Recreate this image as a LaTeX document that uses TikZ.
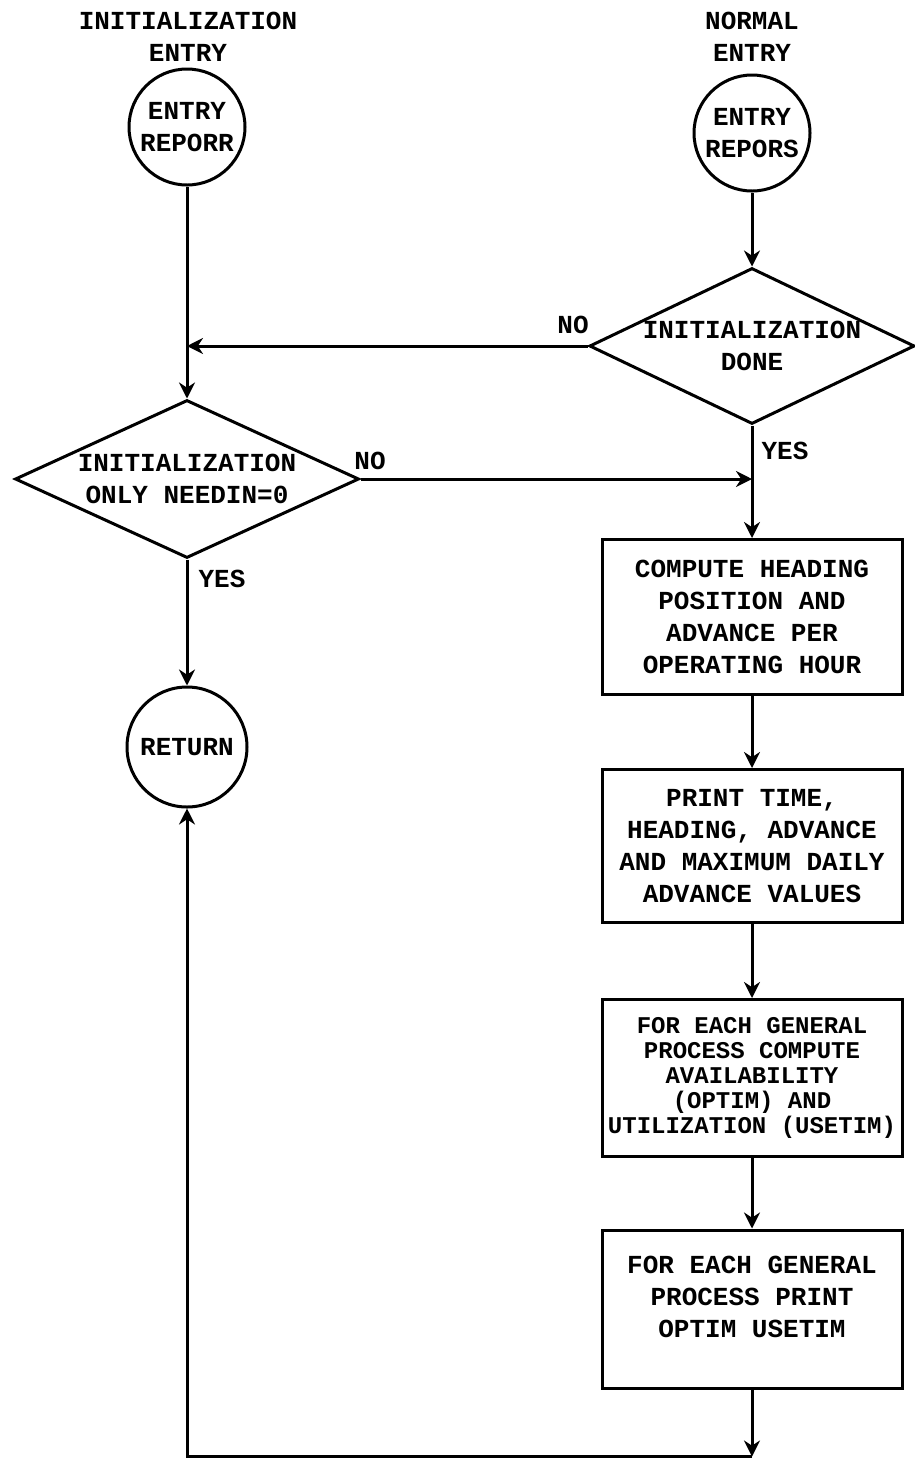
\documentclass[tikz,border=0pt]{standalone}
\usepackage{fontspec}
\setmonofont{Liberation Mono}
\usetikzlibrary{shapes.geometric,arrows.meta}
\begin{document}
\begin{tikzpicture}[x=1pt,y=-1pt,
  base/.style={font=\ttfamily\bfseries\fontsize{26}{32}\selectfont, align=center, inner sep=0pt},
  conn/.style={line width=3pt},
  arr/.style={conn,-{Stealth[length=16pt,width=16pt]}},
  circ/.style={base,draw,circle,line width=3pt,minimum size=116pt},
  dia/.style={base,draw,diamond,line width=3pt,shape aspect=2.15,minimum width=330pt,minimum height=156pt},
  box/.style={base,draw,rectangle,line width=3pt,minimum width=300pt,minimum height=155pt}]
\useasboundingbox (0,0) rectangle (914,1460);
\fill[white] (0,0) rectangle (914,1460);

% titles
\node[base] (t1) at (188,37) {INITIALIZATION\\ENTRY};
\node[base] (t2) at (752,37) {NORMAL\\ENTRY};

% circles
\node[circ] (c1) at (187,127) {ENTRY\\REPORR};
\node[circ] (c2) at (752,133) {ENTRY\\REPORS};
\node[circ, minimum size=120pt] (ret) at (187,747) {RETURN};

% decisions
\node[dia, minimum width=324pt] (d1) at (752,346) {INITIALIZATION\\DONE};
\node[dia, shape aspect=2.18, minimum width=344pt, minimum height=158pt] (d2) at (187,479) {INITIALIZATION\\ONLY NEEDIN=0};

% process boxes
\node[box] (b1) at (752,617) {COMPUTE HEADING\\POSITION AND\\ADVANCE PER\\OPERATING HOUR};
\node[box, minimum height=153pt] (b2) at (752,846) {PRINT TIME,\\HEADING, ADVANCE\\AND MAXIMUM DAILY\\ADVANCE VALUES};
\node[box, minimum height=157pt, font=\ttfamily\bfseries\fontsize{24}{25}\selectfont] (b3) at (752,1078) {FOR EACH GENERAL\\PROCESS COMPUTE\\AVAILABILITY\\(OPTIM) AND\\UTILIZATION (USETIM)};
\node[box, minimum height=158pt] (b4) at (752,1309) {FOR EACH GENERAL\\PROCESS PRINT\\OPTIM USETIM\\[-8pt]\mbox{}};

% junction points
\coordinate (j1) at (d1.west -| d2.north);
\coordinate (j2) at (d2.east -| d1.south);
\path (b4.south) ++(0,67) coordinate (j3);

% connectors
\draw[arr] (c1.south) -- (d2.north);
\draw[arr] (c2.south) -- (d1.north);
\draw[arr] (d1.west) -- (j1);
\draw[arr] (d1.south) -- (b1.north);
\draw[arr] (d2.east) -- (j2);
\draw[arr] (d2.south) -- (ret.north);
\draw[arr] (b1.south) -- (b2.north);
\draw[arr] (b2.south) -- (b3.north);
\draw[arr] (b3.south) -- (b4.north);
\draw[arr] (b4.south) -- (j3);
\draw[arr] (j3) -| (ret.south);

% branch labels
\node[base] (n1) at (573,325) {NO};
\node[base] (n2) at (370,461) {NO};
\node[base] (y1) at (785,451) {YES};
\node[base] (y2) at (222,579) {YES};
\end{tikzpicture}
\end{document}
